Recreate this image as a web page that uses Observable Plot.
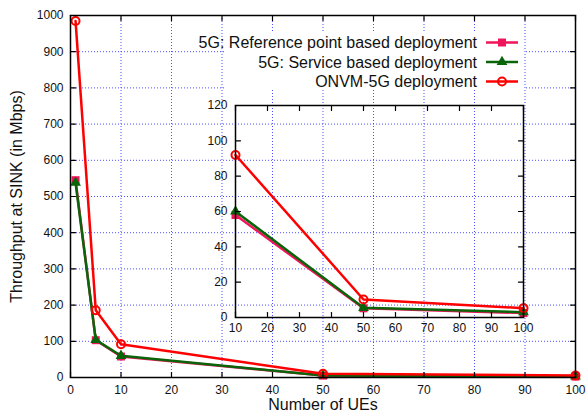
<!DOCTYPE html>
<html><head><meta charset="utf-8">
<script src="https://cdn.jsdelivr.net/npm/d3@7"></script>
<script src="https://cdn.jsdelivr.net/npm/@observablehq/plot@0.6"></script>
<style>
html,body{margin:0;padding:0;background:#fff;}
#chart{position:relative;width:587px;height:412px;font-family:"Liberation Sans",Arial,Helvetica,sans-serif;}
#chart svg{position:absolute;overflow:visible;background:transparent;}
</style></head><body><div id="chart"></div>
<script>
// ---- data ----
const ues = [1, 5, 10, 50, 100];
const refPoint = [545, 103, 58, 5.2, 2.5];
const serviceBased = [538, 104, 60, 5.5, 3];
const onvm = [985, 186, 92, 10.2, 5.3];
const seriesNames = ["5G: Reference point based deployment", "5G: Service based deployment", "ONVM-5G deployment"];
const seriesValues = [refPoint, serviceBased, onvm];
const seriesColors = ["#f0145a", "#0a640a", "#ff0000"];
const seriesSymbols = ["square", "triangle", "circle"];
const xTicks = [0, 10, 20, 30, 40, 50, 60, 70, 80, 90, 100];
const yTicks = [0, 100, 200, 300, 400, 500, 600, 700, 800, 900, 1000];
const insetXTicks = [10, 20, 30, 40, 50, 60, 70, 80, 90, 100];
const insetYTicks = [0, 20, 40, 60, 80, 100, 120];
const xLabel = "Number of UEs";
const yLabel = "Throughput at SINK (in Mbps)";

const FONT = '"Liberation Sans", Arial, Helvetica, sans-serif';
const fmt = d3.format("d");
const tickShape = {draw(c, l) { c.moveTo(0, 0); c.lineTo(0, -l); }};

function seriesMarks(minX) {
  const marks = [];
  seriesValues.forEach((vals, i) => {
    const rows = ues.map((u, j) => ({x: u, y: vals[j]})).filter(d => d.x >= minX);
    marks.push(Plot.line(rows, {x: "x", y: "y", stroke: seriesColors[i], strokeWidth: 2.5}));
    const sym = seriesSymbols[i];
    if (sym === "circle") {
      marks.push(Plot.dot(rows, {x: "x", y: "y", symbol: "circle", r: 4, stroke: seriesColors[i], strokeWidth: 2, fill: "none"}));
    } else {
      marks.push(Plot.dot(rows, {x: "x", y: "y", symbol: sym, r: sym === "square" ? 4.5 : 4, fill: seriesColors[i], stroke: "none"}));
    }
  });
  return marks;
}

function frameTicks(xt, yt, xd, yd) {
  const o = {length: 5, anchor: "start", shape: tickShape, stroke: "black", strokeWidth: 1.2};
  return [
    Plot.vector(xt, {...o, x: d => d, y: yd[0], rotate: 0}),
    Plot.vector(xt, {...o, x: d => d, y: yd[1], rotate: 180}),
    Plot.vector(yt, {...o, y: d => d, x: xd[0], rotate: 90}),
    Plot.vector(yt, {...o, y: d => d, x: xd[1], rotate: -90})
  ];
}

const gridStyle = {stroke: "#3c3cff", strokeOpacity: 0.9, strokeDasharray: "1,2", strokeWidth: 1};

const main = Plot.plot({
  width: 587, height: 412,
  marginLeft: 70, marginRight: 12, marginTop: 15, marginBottom: 35,
  style: {fontFamily: FONT, fontSize: "12px", color: "#111", background: "transparent"},
  x: {domain: [0, 100]},
  y: {domain: [0, 1000]},
  marks: [
    Plot.gridX(xTicks.slice(1, -1), gridStyle),
    Plot.gridY(yTicks.slice(1, -1), gridStyle),
    Plot.axisX(xTicks, {tickSize: 0, tickPadding: 8, fontSize: 12, label: null, tickFormat: fmt}),
    Plot.axisY(yTicks, {tickSize: 0, tickPadding: 7, fontSize: 12, label: null, tickFormat: fmt}),
    Plot.text([xLabel], {text: d => d, frameAnchor: "bottom", dy: 27, fontSize: 16, lineAnchor: "middle", textAnchor: "middle"}),
    Plot.text([yLabel], {text: d => d, frameAnchor: "left", dx: -54, rotate: -90, fontSize: 16, lineAnchor: "middle", textAnchor: "middle"}),
    ...seriesMarks(0),
    ...frameTicks(xTicks, yTicks, [0, 100], [0, 1000]),
    Plot.frame({stroke: "black", strokeWidth: 1.5})
  ]
});
main.style.left = "0px"; main.style.top = "0px";
document.getElementById("chart").appendChild(main);

// ---- legend (gnuplot style key, opaque box) ----
const leg = d3.select("#chart").append("svg")
  .attr("width", 587).attr("height", 412)
  .style("left", "0px").style("top", "0px")
  .style("font-family", FONT);
leg.append("rect").attr("x", 224).attr("y", 33).attr("width", 300).attr("height", 56).attr("fill", "white");
seriesNames.forEach((name, i) => {
  const cy = 42.5 + i * 19.5;
  leg.append("text").attr("x", 477).attr("y", cy).attr("dy", "0.35em")
    .attr("text-anchor", "end").attr("font-size", 16).attr("fill", "#111").text(name);
  leg.append("line").attr("x1", 486).attr("x2", 518).attr("y1", cy).attr("y2", cy)
    .attr("stroke", seriesColors[i]).attr("stroke-width", 2.5);
  const sym = seriesSymbols[i];
  const s = d3.symbol().type(sym === "square" ? d3.symbolSquare : sym === "triangle" ? d3.symbolTriangle : d3.symbolCircle)
    .size(sym === "square" ? 4.5 * 4.5 * Math.PI : 4 * 4 * Math.PI);
  const p = leg.append("path").attr("d", s()).attr("transform", `translate(502,${cy})`);
  if (sym === "circle") p.attr("fill", "none").attr("stroke", seriesColors[i]).attr("stroke-width", 2);
  else p.attr("fill", seriesColors[i]);
});

// ---- inset ----
const inset = Plot.plot({
  width: 340, height: 250,
  marginLeft: 40, marginRight: 12, marginTop: 15, marginBottom: 23,
  style: {fontFamily: FONT, fontSize: "12px", color: "#111", background: "transparent"},
  x: {domain: [10, 100]},
  y: {domain: [0, 120]},
  marks: [
    Plot.axisX(insetXTicks, {tickSize: 0, tickPadding: 6, fontSize: 12, label: null, tickFormat: fmt}),
    Plot.axisY(insetYTicks, {tickSize: 0, tickPadding: 8, fontSize: 12, label: null, tickFormat: fmt}),
    ...seriesMarks(10),
    ...frameTicks(insetXTicks, insetYTicks, [10, 100], [0, 120]),
    Plot.frame({stroke: "black", strokeWidth: 1.5})
  ]
});
inset.style.left = "195px"; inset.style.top = "90px";
document.getElementById("chart").appendChild(inset);
</script></body></html>
